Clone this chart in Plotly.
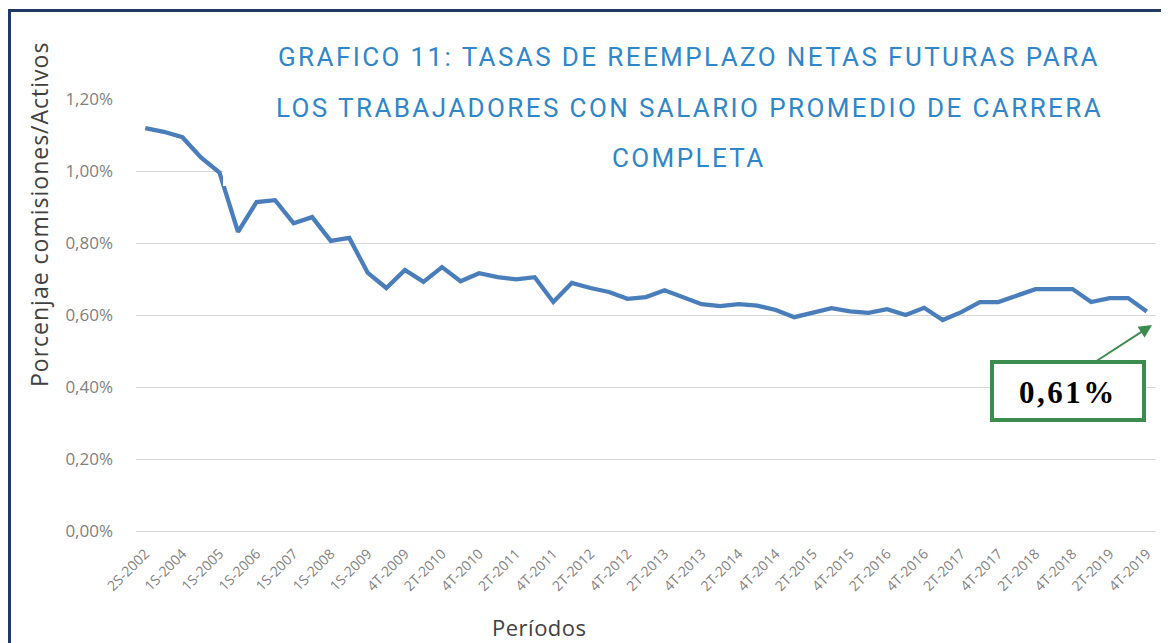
import plotly.graph_objects as go

# ---- data ----
periodos = [
    "2S-2002", "2S-2003", "1S-2004", "2S-2004", "1S-2005", "2S-2005",
    "1S-2006", "2S-2006", "1S-2007", "2S-2007", "1S-2008", "2S-2008",
    "1S-2009", "3T-2009", "4T-2009",
    "1T-2010", "2T-2010", "3T-2010", "4T-2010",
    "1T-2011", "2T-2011", "3T-2011", "4T-2011",
    "1T-2012", "2T-2012", "3T-2012", "4T-2012",
    "1T-2013", "2T-2013", "3T-2013", "4T-2013",
    "1T-2014", "2T-2014", "3T-2014", "4T-2014",
    "1T-2015", "2T-2015", "3T-2015", "4T-2015",
    "1T-2016", "2T-2016", "3T-2016", "4T-2016",
    "1T-2017", "2T-2017", "3T-2017", "4T-2017",
    "1T-2018", "2T-2018", "3T-2018", "4T-2018",
    "1T-2019", "2T-2019", "3T-2019", "4T-2019",
]
comisiones_pct = [
    1.119, 1.109, 1.094, 1.038, 0.996, 0.831, 0.914, 0.919, 0.855, 0.872,
    0.806, 0.814, 0.717, 0.675, 0.725, 0.692, 0.733, 0.694, 0.716, 0.705,
    0.699, 0.705, 0.636, 0.689, 0.675, 0.664, 0.645, 0.650, 0.669, 0.650,
    0.630, 0.625, 0.630, 0.626, 0.614, 0.594, 0.605, 0.619, 0.610, 0.606,
    0.616, 0.600, 0.620, 0.586, 0.608, 0.636, 0.636, 0.653, 0.672, 0.672,
    0.672, 0.636, 0.647, 0.647, 0.610,
]
tick_labels = periodos[::2]
y_ticks = [0.0, 0.2, 0.4, 0.6, 0.8, 1.0, 1.2]
y_tick_text = ["0,00%", "0,20%", "0,40%", "0,60%", "0,80%", "1,00%", "1,20%"]
titulo = [
    "GRAFICO 11: TASAS DE REEMPLAZO NETAS FUTURAS PARA",
    "LOS TRABAJADORES CON SALARIO PROMEDIO DE CARRERA",
    "COMPLETA",
]
etiqueta_final = "0,61%"

# ---- layout helpers (reference window pixel -> paper) ----
OFF = 8  # page body margin
W, H = 1169 - OFF, 643 - OFF
L, R, T, B = 136 - OFF, 13, 99 - OFF, 112
PW, PH = W - L - R, H - T - B


def px(x):
    return (x - OFF - L) / PW


def py(y):
    return (H - B - (y - OFF)) / PH


TITLE_BLUE = "#2F86C8"
LINE_BLUE = "#4A7EBB"
GREEN = "#3C8C50"
GRAY = "#7F7F7F"
DARK = "#404040"


def spaced(txt, sp):
    return '<span style="letter-spacing:%spx">%s</span>' % (sp, txt)


fig = go.Figure(
    go.Scatter(
        x=periodos,
        y=comisiones_pct,
        mode="lines",
        line=dict(color=LINE_BLUE, width=4.3),
        hoverinfo="x+y",
    )
)

shapes = [
    # white title box covering upper gridlines
    dict(type="rect", xref="paper", yref="paper",
         x0=px(223), x1=px(1160), y0=py(186), y1=py(16),
         fillcolor="white", line=dict(width=0), layer="above"),
    # outer navy frame
    dict(type="rect", xref="paper", yref="paper",
         x0=px(9.5), x1=px(1185), y0=py(665), y1=py(10.5),
         line=dict(color="#1F3864", width=3), fillcolor="rgba(0,0,0,0)",
         layer="above"),
    # green value box
    dict(type="rect", xref="paper", yref="paper",
         x0=px(992), x1=px(1144), y0=py(420), y1=py(362),
         fillcolor="white", line=dict(color=GREEN, width=4), layer="above"),
]

annotations = []
for txt, yc in zip(titulo, [57, 108, 158]):
    annotations.append(dict(
        text=spaced(txt, 2.4), xref="paper", yref="paper", x=px(689), y=py(yc),
        xanchor="center", yanchor="middle", showarrow=False,
        font=dict(family="Roboto", size=26, color=TITLE_BLUE)))

annotations += [
    dict(text=spaced(etiqueta_final, 2.5), xref="paper", yref="paper",
         x=px(1068), y=py(392), xanchor="center", yanchor="middle",
         showarrow=False,
         font=dict(family="Liberation Serif", size=31, color="black",
                   weight="bold")),
    dict(text="", xref="paper", yref="paper", x=px(1152), y=py(325),
         showarrow=True, ax=-57, ay=37, arrowhead=2, arrowsize=1.3,
         arrowwidth=2, arrowcolor=GREEN, standoff=0),
    dict(text=spaced("Porcenjae comisiones/Activos", 1), xref="paper",
         yref="paper", x=px(39), y=py(215), textangle=-90, showarrow=False,
         xanchor="center", yanchor="middle",
         font=dict(family="Open Sans", size=23, color=DARK)),
    dict(text=spaced("Períodos", 0.5), xref="paper", yref="paper",
         x=px(539), y=py(627), showarrow=False,
         xanchor="center", yanchor="middle",
         font=dict(family="Open Sans", size=22, color=DARK)),
]

fig.update_layout(
    width=W, height=H,
    margin=dict(l=L, r=R, t=T, b=B),
    paper_bgcolor="white", plot_bgcolor="white",
    showlegend=False,
    shapes=shapes,
    annotations=annotations,
    xaxis=dict(
        type="category",
        range=[-0.5, len(periodos) - 0.5],
        tickmode="array", tickvals=tick_labels, ticktext=tick_labels,
        tickangle=-45,
        tickfont=dict(family="Open Sans", size=14, color=GRAY),
        showgrid=False, showline=False, ticks="", zeroline=False,
        ticklabelstandoff=11,
    ),
    yaxis=dict(
        range=[0, 1.2001],
        tickmode="array", tickvals=y_ticks, ticktext=y_tick_text,
        tickfont=dict(family="Open Sans", size=17, color=GRAY),
        showgrid=True, gridcolor="#D9D9D9", gridwidth=1,
        zeroline=True, zerolinecolor="#D9D9D9", zerolinewidth=1,
        showline=False, ticks="", ticklabelstandoff=22,
    ),
)

fig.write_html("out.html")
